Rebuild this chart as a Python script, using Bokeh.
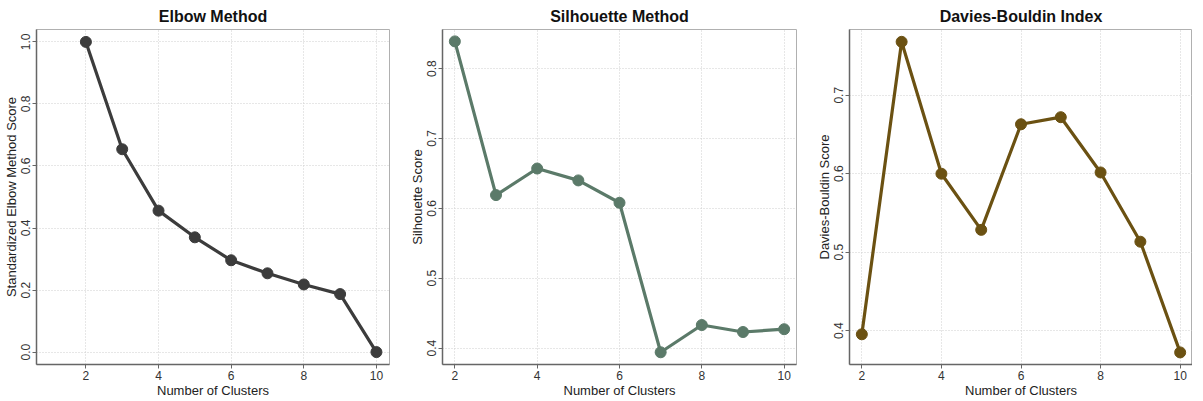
from bokeh.plotting import figure
from bokeh.layouts import row
from bokeh.models import FixedTicker, Range1d, PrintfTickFormatter
from bokeh.embed import file_html
from bokeh.resources import INLINE

clusters = [2, 3, 4, 5, 6, 7, 8, 9, 10]
elbow = [1.0, 0.654, 0.456, 0.370, 0.296, 0.254, 0.218, 0.187, 0.0]
silhouette = [0.839, 0.619, 0.657, 0.640, 0.608, 0.394, 0.433, 0.423, 0.427]
davies = [0.3955, 0.768, 0.600, 0.5285, 0.663, 0.672, 0.6016, 0.5134, 0.3724]

x_ticks = [2, 4, 6, 8, 10]
elbow_ticks = [0.0, 0.2, 0.4, 0.6, 0.8, 1.0]
sil_ticks = [0.4, 0.5, 0.6, 0.7, 0.8]
db_ticks = [0.4, 0.5, 0.6, 0.7]

FONT = "Liberation Sans"


def make(title, ylabel, ys, color, xr, yr, yt, width, frame_w, left, right):
    p = figure(width=width, height=384, output_backend="svg", toolbar_location=None,
               x_range=Range1d(*xr), y_range=Range1d(*yr),
               min_border_left=left, min_border_right=right, min_border_top=0,
               min_border_bottom=0, frame_width=frame_w, frame_height=335)
    p.title.text = title
    p.title.align = "center"
    p.title.text_font = FONT
    p.title.text_font_size = "16px"
    p.title.text_font_style = "bold"
    p.title.text_color = "#111111"
    p.title.standoff = 10
    p.outline_line_color = "#b0b0b0"
    p.outline_line_width = 1
    p.background_fill_color = "white"
    p.border_fill_color = "white"
    for ax in (p.xaxis[0], p.yaxis[0]):
        ax.axis_line_color = "#666666"
        ax.axis_line_width = 1.5
        ax.major_tick_line_color = "#666666"
        ax.major_tick_out = 4
        ax.major_tick_in = 0
        ax.minor_tick_line_color = None
        ax.major_label_text_font = FONT
        ax.major_label_text_font_size = "12px"
        ax.major_label_text_color = "#333333"
        ax.axis_label_text_font = FONT
        ax.axis_label_text_font_size = "13px"
        ax.axis_label_text_font_style = "normal"
        ax.axis_label_text_color = "#222222"
        ax.major_label_standoff = 2
        ax.axis_label_standoff = 0
    p.xaxis.ticker = FixedTicker(ticks=x_ticks)
    p.yaxis.ticker = FixedTicker(ticks=yt)
    p.yaxis.formatter = PrintfTickFormatter(format="%.1f")
    p.yaxis.major_label_orientation = "vertical"
    p.xaxis.axis_label = "Number of Clusters"
    p.yaxis.axis_label = ylabel
    p.xgrid.ticker = FixedTicker(ticks=x_ticks)
    p.ygrid.ticker = FixedTicker(ticks=yt)
    for g in (p.xgrid[0], p.ygrid[0]):
        g.grid_line_color = "#cfcfcf"
        g.grid_line_dash = "1 2"
        g.grid_line_width = 1
    p.line(clusters, ys, line_color=color, line_width=3.2)
    p.scatter(clusters, ys, size=11, fill_color=color, line_color=color)
    return p


p1 = make("Elbow Method", "Standardized Elbow Method Score", elbow, "#3c3c3c",
          (0.64, 10.36), (-0.04, 1.04), elbow_ticks, 392, 353, 29, 8)
p2 = make("Silhouette Method", "Silhouette Score", silhouette, "#5b7a69",
          (1.7, 10.3), (0.3765, 0.856), sil_ticks, 400, 354, 45, 1)
p3 = make("Davies-Bouldin Index", "Davies-Bouldin Score", davies, "#6b5112",
          (1.69, 10.31), (0.357, 0.7837), db_ticks, 395, 343, 52, 0)

layout = row(p1, p2, p3, spacing=0)
open("out.html", "w").write(file_html(layout, INLINE))
